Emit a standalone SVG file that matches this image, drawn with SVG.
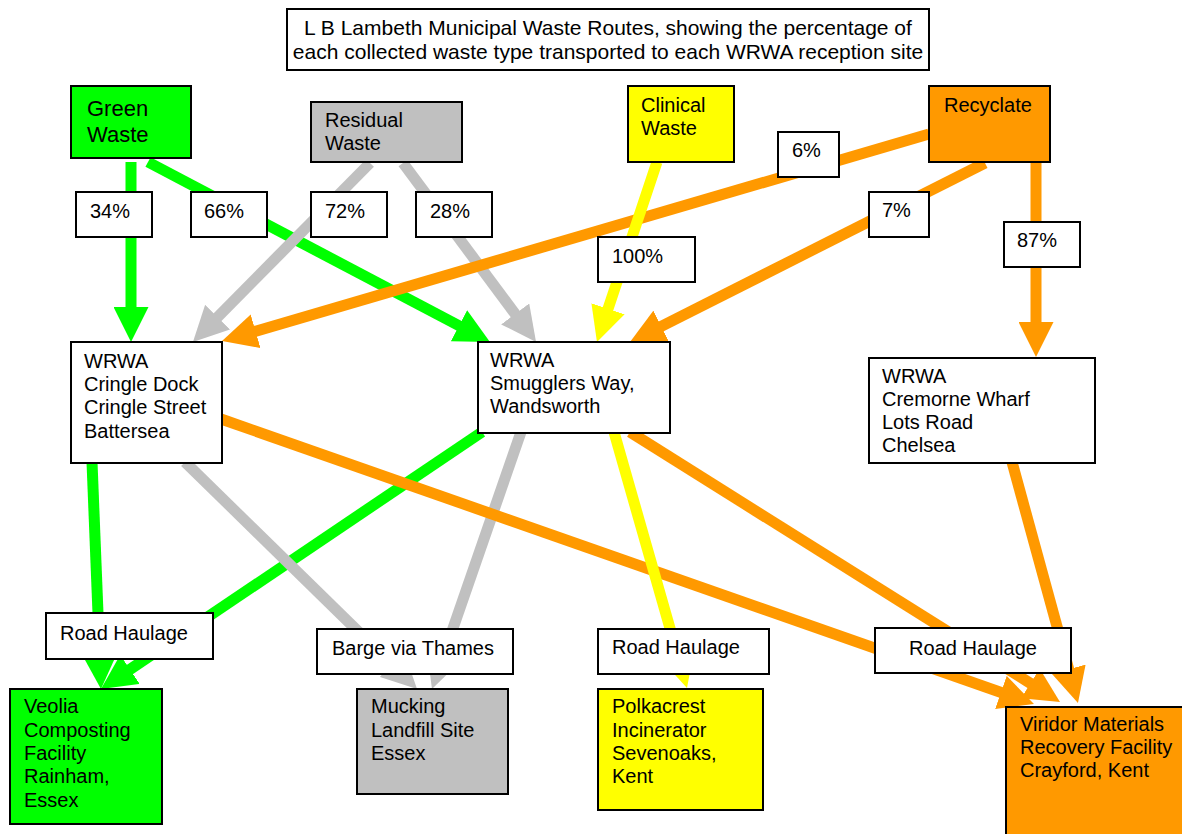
<svg xmlns="http://www.w3.org/2000/svg" width="1182" height="834" viewBox="0 0 1182 834">
<style>
text{font-family:"Liberation Sans",Arial,sans-serif;font-size:20px;fill:#000}
.t{font-size:21px}
.big{font-size:22px}
.box{stroke:#000;stroke-width:2}
.w{fill:#fff}
.fg{fill:#00ff00}
.fr{fill:#c0c0c0}
.fy{fill:#ffff00}
.fo{fill:#ff9900}
.c{fill:none;stroke-width:11;stroke-linecap:butt}
.g{stroke:#00ff00}
.r{stroke:#c0c0c0}
.y{stroke:#ffff00}
.o{stroke:#ff9900}
</style>
<defs>
<marker id="ag" markerUnits="userSpaceOnUse" markerWidth="35" markerHeight="35" refX="20" refY="17.5" orient="auto"><path d="M0,0 L35,17.5 L0,35 Z" fill="#00ff00"/></marker>
<marker id="ar" markerUnits="userSpaceOnUse" markerWidth="35" markerHeight="35" refX="20" refY="17.5" orient="auto"><path d="M0,0 L35,17.5 L0,35 Z" fill="#c0c0c0"/></marker>
<marker id="ay" markerUnits="userSpaceOnUse" markerWidth="35" markerHeight="35" refX="20" refY="17.5" orient="auto"><path d="M0,0 L35,17.5 L0,35 Z" fill="#ffff00"/></marker>
<marker id="ao" markerUnits="userSpaceOnUse" markerWidth="35" markerHeight="35" refX="20" refY="17.5" orient="auto"><path d="M0,0 L35,17.5 L0,35 Z" fill="#ff9900"/></marker>
</defs>
<rect width="1182" height="834" fill="#fff"/>

<g id="connectors">
<line class="c g" x1="131" y1="162" x2="131" y2="327" marker-end="url(#ag)"/>
<line class="c g" x1="148" y1="162" x2="476.7" y2="335" marker-end="url(#ag)"/>
<line class="c g" x1="92" y1="462" x2="100.4" y2="674" marker-end="url(#ag)"/>
<line class="c g" x1="482" y1="432" x2="113.4" y2="680.6" marker-end="url(#ag)"/>
<line class="c r" x1="370" y1="163" x2="203.5" y2="331.3" marker-end="url(#ar)"/>
<line class="c r" x1="403" y1="163" x2="527.1" y2="330" marker-end="url(#ar)"/>
<line class="c r" x1="185" y1="462" x2="406.3" y2="678.5" marker-end="url(#ar)"/>
<line class="c r" x1="521" y1="432" x2="436.9" y2="674.8" marker-end="url(#ar)"/>
<line class="c o" x1="929" y1="134" x2="236.4" y2="336.8" marker-end="url(#ao)"/>
<line class="c o" x1="985" y1="163" x2="643.4" y2="335.3" marker-end="url(#ao)"/>
<line class="c o" x1="1036" y1="162" x2="1036" y2="342" marker-end="url(#ao)"/>
<line class="c o" x1="221" y1="419" x2="1019.8" y2="699" marker-end="url(#ao)"/>
<line class="c o" x1="630" y1="432" x2="1047.3" y2="694" marker-end="url(#ao)"/>
<line class="c o" x1="1012" y1="462" x2="1074" y2="688.5" marker-end="url(#ao)"/>
<line class="c y" x1="657" y1="162" x2="601.7" y2="327.8" marker-end="url(#ay)"/>
<line class="c y" x1="614" y1="432" x2="682.9" y2="673.6" marker-end="url(#ay)"/>

<g id="label-34"><rect class="box w" x="76" y="192" width="76" height="45"/><text x="90" y="218">34%</text></g>
<g id="label-66"><rect class="box w" x="191" y="192" width="76" height="45"/><text x="204" y="218">66%</text></g>
<g id="label-72"><rect class="box w" x="311" y="192" width="76" height="45"/><text x="325" y="218">72%</text></g>
<g id="label-28"><rect class="box w" x="416" y="192" width="76" height="45"/><text x="430" y="218">28%</text></g>
<g id="label-6"><rect class="box w" x="778" y="132" width="61" height="45"/><text x="792" y="157">6%</text></g>
<g id="label-7"><rect class="box w" x="869" y="192" width="60" height="45"/><text x="882" y="217">7%</text></g>
<g id="label-87"><rect class="box w" x="1004" y="222" width="76" height="45"/><text x="1017" y="247">87%</text></g>
<g id="label-100"><rect class="box w" x="598" y="237" width="97" height="45"/><text x="612" y="263">100%</text></g>
<g id="route-road1"><rect class="box w" x="46" y="613" width="167" height="46"/><text x="60" y="640">Road Haulage</text></g>
<g id="route-barge"><rect class="box w" x="317" y="629" width="196" height="45"/><text x="332" y="655">Barge via Thames</text></g>
<g id="route-road2"><rect class="box w" x="598" y="629" width="171" height="45"/><text x="612" y="654">Road Haulage</text></g>
<g id="route-road3"><rect class="box w" x="875" y="628" width="196" height="45"/><text x="973" y="655" text-anchor="middle">Road Haulage</text></g>
</g>

<g id="title"><rect class="box w" x="287" y="9" width="642" height="61"/>
<text class="t" x="608" y="35" text-anchor="middle">L B Lambeth Municipal Waste Routes, showing the percentage of</text>
<text class="t" x="608" y="59" text-anchor="middle">each collected waste type transported to each WRWA reception site</text></g>

<g id="green-waste"><rect class="box fg" x="71" y="86" width="120" height="72"/><text class="big" x="87" y="116">Green</text><text class="big" x="87" y="142">Waste</text></g>
<g id="residual-waste"><rect class="box fr" x="311" y="102" width="151" height="60"/><text x="325" y="127">Residual</text><text x="325" y="150">Waste</text></g>
<g id="clinical-waste"><rect class="box fy" x="628" y="86" width="106" height="76"/><text x="641" y="112">Clinical</text><text x="641" y="135">Waste</text></g>
<g id="recyclate"><rect class="box fo" x="929" y="86" width="121" height="76"/><text x="944" y="112">Recyclate</text></g>

<g id="wrwa-cringle"><rect class="box w" x="71" y="342" width="151" height="121"/>
<text x="84" y="368">WRWA</text><text x="84" y="391">Cringle Dock</text><text x="84" y="414">Cringle Street</text><text x="84" y="438">Battersea</text></g>
<g id="wrwa-smugglers"><rect class="box w" x="478" y="342" width="192" height="91"/>
<text x="490" y="367">WRWA</text><text x="490" y="390">Smugglers Way,</text><text x="490" y="413">Wandsworth</text></g>
<g id="wrwa-cremorne"><rect class="box w" x="869" y="358" width="226" height="105"/>
<text x="882" y="383">WRWA</text><text x="882" y="406">Cremorne Wharf</text><text x="882" y="429">Lots Road</text><text x="882" y="452">Chelsea</text></g>

<g id="veolia"><rect class="box fg" x="10" y="689" width="152" height="135"/>
<text x="24" y="713">Veolia</text><text x="24" y="737">Composting</text><text x="24" y="760">Facility</text><text x="24" y="783">Rainham,</text><text x="24" y="807">Essex</text></g>
<g id="mucking"><rect class="box fr" x="357" y="689" width="151" height="105"/>
<text x="371" y="713">Mucking</text><text x="371" y="737">Landfill Site</text><text x="371" y="760">Essex</text></g>
<g id="polkacrest"><rect class="box fy" x="598" y="689" width="165" height="121"/>
<text x="612" y="713">Polkacrest</text><text x="612" y="737">Incinerator</text><text x="612" y="760">Sevenoaks,</text><text x="612" y="783">Kent</text></g>
<g id="viridor"><rect class="box fo" x="1006" y="707" width="190" height="140"/>
<text x="1020" y="731">Viridor Materials</text><text x="1020" y="754">Recovery Facility</text><text x="1020" y="777">Crayford, Kent</text></g>
</svg>
